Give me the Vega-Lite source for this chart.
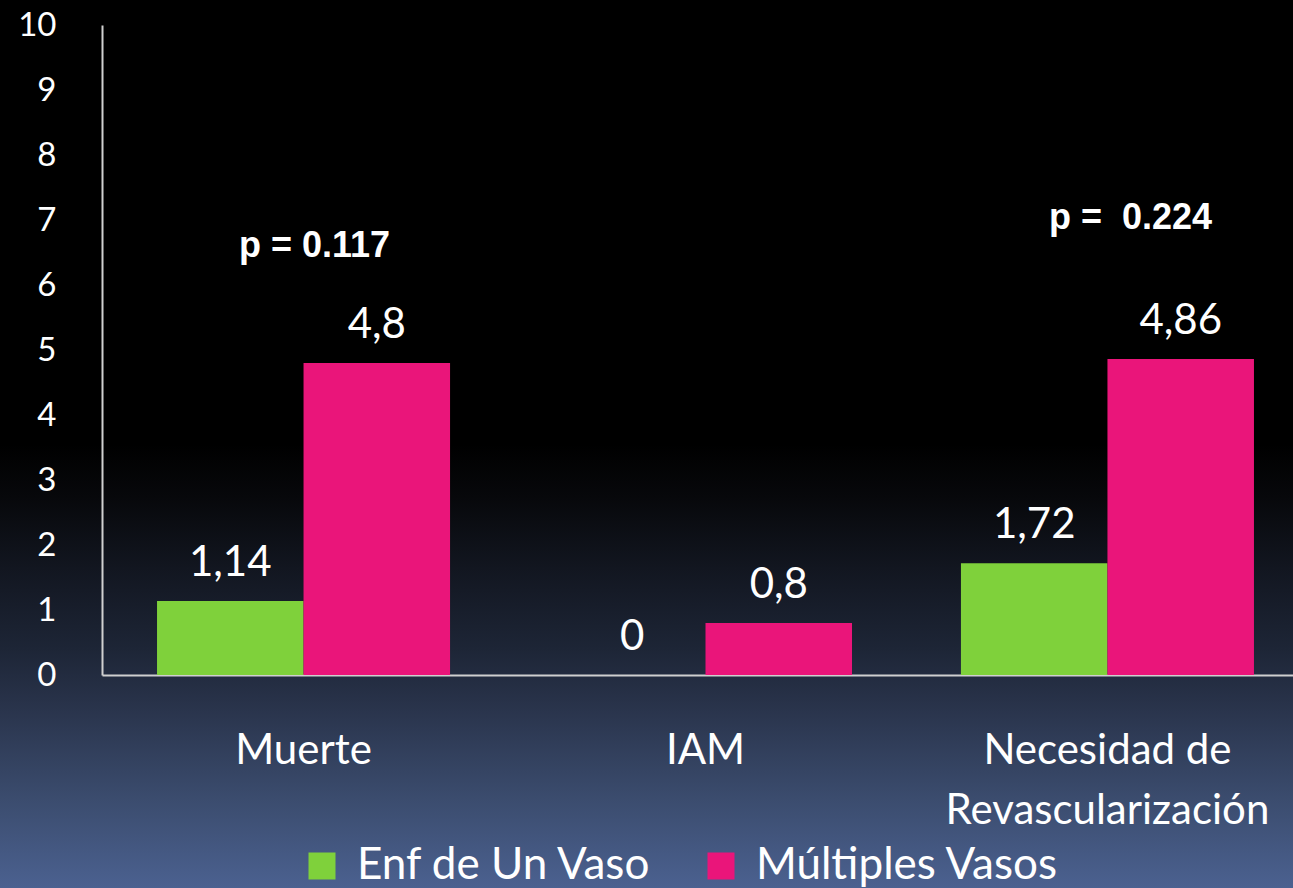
{
  "$schema": "https://vega.github.io/schema/vega-lite/v6.json",
  "width": 1293,
  "height": 888,
  "autosize": {"type": "none"},
  "padding": 0,
  "background": "#000000",
  "config": {
    "locale": {"number": {"decimal": ",", "thousands": ".", "grouping": [3], "currency": ["", " €"]}},
    "font": "Lato",
    "view": {
      "stroke": null,
      "fill": {
        "gradient": "linear", "x1": 0, "y1": 0, "x2": 0, "y2": 1,
        "stops": [
          {"offset": 0, "color": "#000000"},
          {"offset": 0.5, "color": "#000000"},
          {"offset": 0.56, "color": "#07080b"},
          {"offset": 0.64, "color": "#121620"},
          {"offset": 0.73, "color": "#1d2536"},
          {"offset": 0.79, "color": "#283249"},
          {"offset": 0.9, "color": "#3b4c6e"},
          {"offset": 1, "color": "#4b6190"}
        ]
      }
    },
    "legend": {
      "orient": "none", "legendX": 300, "legendY": 844, "direction": "horizontal",
      "title": null, "symbolType": "square", "symbolSize": 729, "symbolStrokeWidth": 0,
      "symbolOpacity": 1, "labelFont": "Lato", "labelFontSize": 44, "labelColor": "#ffffff",
      "labelOffset": 13, "columnPadding": 47, "labelLimit": 600
    }
  },
  "layer": [
    {
      "data": {"values": [
        {"cat": "Muerte", "serie": "Enf de Un Vaso", "v": 1.14},
        {"cat": "Muerte", "serie": "Múltiples Vasos", "v": 4.8},
        {"cat": "IAM", "serie": "Enf de Un Vaso", "v": 0},
        {"cat": "IAM", "serie": "Múltiples Vasos", "v": 0.8},
        {"cat": "Necesidad de Revascularización", "serie": "Enf de Un Vaso", "v": 1.72},
        {"cat": "Necesidad de Revascularización", "serie": "Múltiples Vasos", "v": 4.86}
      ]},
      "layer": [
        {
          "mark": {"type": "bar"},
          "encoding": {
            "x": {
              "field": "cat", "type": "nominal",
              "scale": {"domain": ["Muerte", "IAM", "Necesidad de Revascularización"], "range": [102, 1293], "paddingInner": 0.271, "paddingOuter": 0.117, "align": 0.585},
              "axis": {
                "title": null, "orient": "bottom", "offset": -213, "domainColor": "#d0d0d0", "domainWidth": 2,
                "ticks": false, "tickSize": 0, "labelPadding": 55, "labelFont": "Lato", "labelFontSize": 42,
                "labelColor": "#ffffff", "labelAngle": 0, "labelLimit": 600, "labelLineHeight": 60,
                "labelBaseline": "top", "grid": false,
                "labelExpr": "datum.label == 'Necesidad de Revascularización' ? ['Necesidad de', 'Revascularización'] : datum.label"
              }
            },
            "xOffset": {"field": "serie", "type": "nominal", "scale": {"domain": ["Enf de Un Vaso", "Múltiples Vasos"]}},
            "y": {
              "field": "v", "type": "quantitative",
              "scale": {"domain": [0, 10], "range": [675, 25], "nice": false, "zero": true},
              "axis": {
                "title": null, "offset": -102, "values": [0, 1, 2, 3, 4, 5, 6, 7, 8, 9, 10], "format": "d",
                "domainColor": "#d0d0d0", "domainWidth": 2, "ticks": false, "tickSize": 0,
                "labelPadding": 46, "labelFont": "Lato", "labelFontSize": 33, "labelColor": "#ffffff",
                "grid": false, "labelFlush": false, "labelOverlap": false
              }
            },
            "color": {
              "field": "serie", "type": "nominal",
              "scale": {"domain": ["Enf de Un Vaso", "Múltiples Vasos"], "range": ["#7fd13b", "#ea157a"]}
            }
          }
        },
        {
          "mark": {"type": "text", "font": "Lato", "fontSize": 42, "color": "#ffffff", "baseline": "alphabetic", "dy": -25},
          "encoding": {
            "x": {"field": "cat", "type": "nominal"},
            "xOffset": {"field": "serie", "type": "nominal"},
            "y": {"field": "v", "type": "quantitative"},
            "text": {"field": "v", "type": "quantitative", "format": ".2~f"}
          }
        }
      ]
    },
    {
      "data": {"values": [{"cat": "Muerte", "p": "p = 0.117"}]},
      "mark": {"type": "text", "font": "Liberation Sans", "fontWeight": "bold", "fontSize": 36, "color": "#ffffff", "baseline": "alphabetic", "dx": 11},
      "encoding": {
        "x": {"field": "cat", "type": "nominal"},
        "y": {"datum": 6.43, "type": "quantitative"},
        "text": {"field": "p"}
      }
    },
    {
      "data": {"values": [{"cat": "Necesidad de Revascularización", "p": "p = \u00a00.224"}]},
      "mark": {"type": "text", "font": "Liberation Sans", "fontWeight": "bold", "fontSize": 36, "color": "#ffffff", "baseline": "alphabetic", "dx": 23},
      "encoding": {
        "x": {"field": "cat", "type": "nominal"},
        "y": {"datum": 6.86, "type": "quantitative"},
        "text": {"field": "p"}
      }
    }
  ]
}
